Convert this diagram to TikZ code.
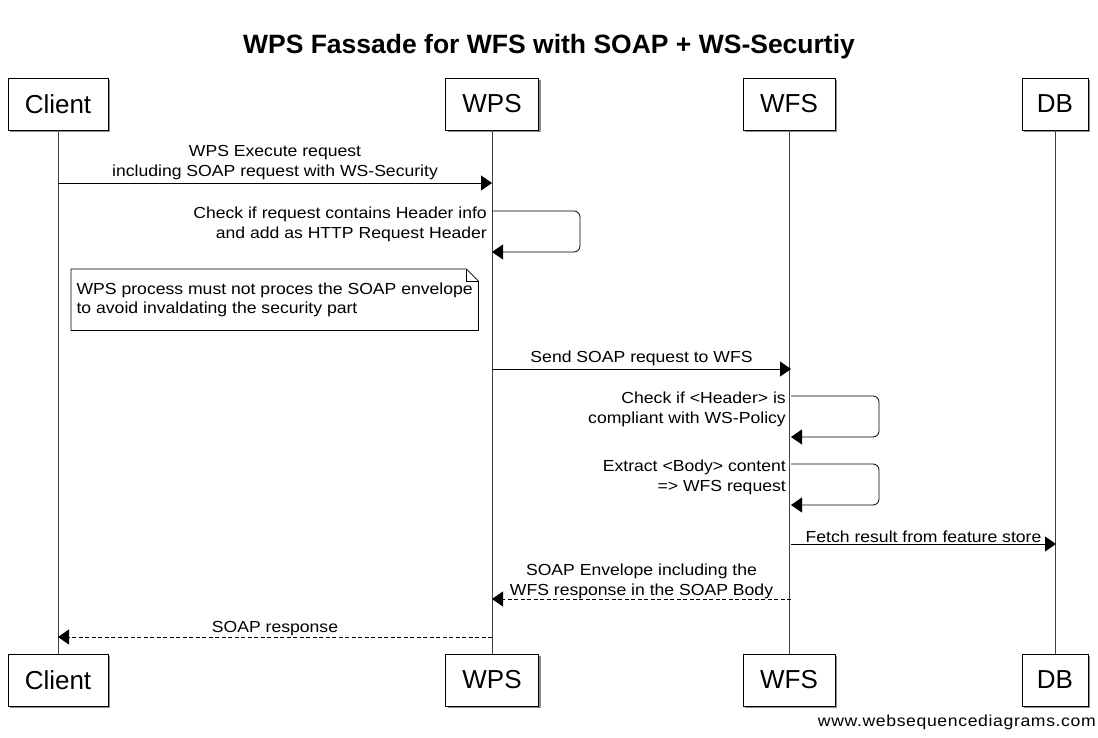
\documentclass[tikz,border=0pt]{standalone}
\usepackage{fontspec}
\setmainfont{Liberation Sans}
\newfontfamily\msgfont[FakeStretch=1.1]{Liberation Sans}
\newfontfamily\wmfont[FakeStretch=1.1, LetterSpace=4]{Liberation Sans}
\usetikzlibrary{arrows.meta, positioning, calc, shadows}

\begin{document}
\begin{tikzpicture}[
    x=1pt, y=-1pt,
    actor/.style={draw, fill=white, minimum height=52pt, inner sep=0pt,
                  font=\fontsize{26}{30}\selectfont,
                  drop shadow={shadow xshift=2pt, shadow yshift=-2pt,
                               fill=black!45, opacity=1}},
    life/.style={black!75, line width=1pt},
    msg/.style={-{Triangle[length=11pt, width=15pt]}, line width=0.8pt},
    reply/.style={msg, dash pattern=on 4pt off 2.5pt},
    txt/.style={font=\msgfont\fontsize{16}{19.5}\selectfont, inner sep=1pt},
]
\useasboundingbox (0,0) rectangle (1098,738);

% Title
\node[font=\bfseries\fontsize{26.5}{30}\selectfont] (title) at (549,47)
    {WPS Fassade for WFS with SOAP + WS-Securtiy};

% Participants
\node[actor, minimum width=100pt] (cliT) at (58,104) {Client};
\node[actor, minimum width=93pt]  (wpsT) at (492,104) {WPS};
\node[actor, minimum width=92pt]  (wfsT) at (789,104) {WFS};
\node[actor, minimum width=66pt]  (dbT)  at (1055,104) {DB};

\node[actor, minimum width=100pt] (cliB) at (58,680) {Client};
\node[actor, minimum width=93pt]  (wpsB) at (492,680) {WPS};
\node[actor, minimum width=92pt]  (wfsB) at (789,680) {WFS};
\node[actor, minimum width=66pt]  (dbB)  at (1055,680) {DB};

% Lifelines
\draw[life] (cliT) -- (cliB);
\draw[life] (wpsT) -- (wpsB);
\draw[life] (wfsT) -- (wfsB);
\draw[life] (dbT) -- (dbB);

% Message ends
\coordinate (c1) at (58,183);   \coordinate (p1) at (492,183);
\coordinate (p2a) at (492,211); \coordinate (p2b) at (492,252);
\coordinate (p3) at (492,369);  \coordinate (f3) at (791,369);
\coordinate (f4a) at (791,396); \coordinate (f4b) at (791,437);
\coordinate (f5a) at (791,464); \coordinate (f5b) at (791,505);
\coordinate (f6) at (791,544);  \coordinate (d6) at (1056,544);
\coordinate (f7) at (791,599);  \coordinate (p7) at (492,599);
\coordinate (p8) at (492,637);  \coordinate (c8) at (58,637);

% Execute request
\draw[msg] (c1) -- (p1)
    node[midway, above=2pt, txt, align=center]
    {WPS Execute request\\including SOAP request with WS-Security};

% Header check on WPS
\draw[msg, rounded corners=6pt] (p2a) -- ++(88,0) |- (p2b);
\node[txt, align=right, anchor=north east] (hdr) at ($(p2a)+(-4,-5)$)
    {Check if request contains Header info\\and add as HTTP Request Header};

% Note
\node[txt, align=left, anchor=north west, minimum width=407pt,
      minimum height=61pt, inner sep=0pt] (note) at (71,269)
    {WPS process must not proces the SOAP envelope\\to avoid invaldating the security part};
\draw[line width=0.8pt] (note.north west) -- ($(note.north east)+(-12,0)$)
    -- ($(note.north east)+(0,12)$) -- (note.south east) -- (note.south west) -- cycle;
\draw[line width=0.5pt] ($(note.north east)+(-12,0)$) -- ++(0,12) -- ++(12,0);

% Forward to WFS
\draw[msg] (p3) -- (f3)
    node[midway, above=2pt, txt] {Send SOAP request to WFS};

% WS-Policy check
\draw[msg, rounded corners=6pt] (f4a) -- ++(88,0) |- (f4b);
\node[txt, align=right, anchor=north east] (pol) at ($(f4a)+(-4,-5)$)
    {Check if <Header> is\\compliant with WS-Policy};

% Extract body
\draw[msg, rounded corners=6pt] (f5a) -- ++(88,0) |- (f5b);
\node[txt, align=right, anchor=north east] (body) at ($(f5a)+(-4,-5)$)
    {Extract <Body> content\\=> WFS request};

% Fetch
\draw[msg] (f6) -- (d6)
    node[midway, above=0pt, txt] {Fetch result from feature store};

% Responses
\draw[reply] (f7) -- (p7)
    node[midway, above=-1pt, txt, align=center]
    {SOAP Envelope including the\\WFS response in the SOAP Body};
\draw[reply] (p8) -- (c8)
    node[midway, above=0pt, txt] {SOAP response};

% Watermark
\node[font=\wmfont\fontsize{16}{18}\selectfont, anchor=east, inner sep=0pt] (wm) at (1096,722)
    {www.websequencediagrams.com};
\end{tikzpicture}
\end{document}
